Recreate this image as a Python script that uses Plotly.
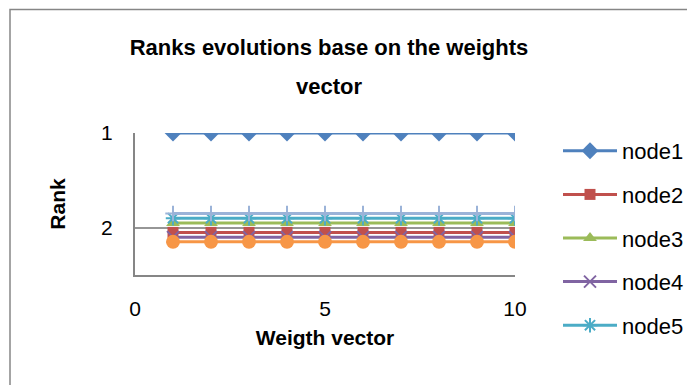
import plotly.graph_objects as go

weights = [1, 2, 3, 4, 5, 6, 7, 8, 9, 10]
series_names = ["node1", "node2", "node3", "node4", "node5", "node6", "node7"]
node1 = [1, 1, 1, 1, 1, 1, 1, 1, 1, 1]
node2 = [2.05, 2.05, 2.05, 2.05, 2.05, 2.05, 2.05, 2.05, 2.05, 2.05]
node3 = [1.95, 1.95, 1.95, 1.95, 1.95, 1.95, 1.95, 1.95, 1.95, 1.95]
node4 = [2.1, 2.1, 2.1, 2.1, 2.1, 2.1, 2.1, 2.1, 2.1, 2.1]
node5 = [1.9, 1.9, 1.9, 1.9, 1.9, 1.9, 1.9, 1.9, 1.9, 1.9]
node6 = [2.15, 2.15, 2.15, 2.15, 2.15, 2.15, 2.15, 2.15, 2.15, 2.15]
node7 = [1.85, 1.85, 1.85, 1.85, 1.85, 1.85, 1.85, 1.85, 1.85, 1.85]
x_ticks = [0, 5, 10]
y_ticks = [1, 2]

values = [node1, node2, node3, node4, node5, node6, node7]
colors = ["#4F81BD", "#C0504D", "#9BBB59", "#8064A2", "#4BACC6", "#F79646", "#9BB3D8"]
symbols = ["diamond", "square", "triangle-up", "x-thin-open", "asterisk-open", "circle", "cross-thin-open"]
sizes = [13, 11, 12, 12, 12, 14, 11]

FONT = "Liberation Sans, Arial, sans-serif"
OFF = 8  # page body margin
W, H = 695 - OFF, 385 - OFF
# plot area in page pixels: x 135..515, y 133..275.5
L = 135 - OFF
R = 695 - 515
T = 133 - OFF
B = 385 - 275.5

fig = go.Figure()
for i, (name, ys) in enumerate(zip(series_names, values)):
    open_sym = symbols[i].endswith("open")
    fig.add_trace(go.Scatter(
        x=weights, y=ys, name=name, mode="lines+markers",
        legendgroup=name, showlegend=i < 5,
        line=dict(color=colors[i], width=3),
        marker=dict(symbol=symbols[i], size=sizes[i], color=colors[i],
                    line=dict(color=colors[i], width=2 if open_sym else 0)),
    ))

pw = 515 - 135
ph = 275.5 - 133

def px_x(p):  # page px -> paper
    return (p - 135) / pw

def px_y(p):
    return (275.5 - p) / ph

fig.update_layout(
    width=W, height=H,
    margin=dict(l=L, r=R, t=T, b=B, pad=0, autoexpand=False),
    paper_bgcolor="white", plot_bgcolor="white",
    font=dict(family=FONT, size=21, color="#000000"),
    title=dict(text="Ranks evolutions base on the weights", xref="paper", x=px_x(329),
               xanchor="center", yref="container", y=1 - (47 - OFF) / H, yanchor="middle",
               font=dict(family=FONT, size=22, color="#000000", weight="bold")),
    annotations=[dict(text="vector", xref="paper", yref="paper", x=px_x(329), y=px_y(86),
                      xanchor="center", yanchor="middle", showarrow=False,
                      font=dict(family=FONT, size=22, color="#000000", weight="bold"))],
    xaxis=dict(range=[0, 10], tickvals=x_ticks, showgrid=False, zeroline=False,
               showline=True, linecolor="#868686", linewidth=2, ticks="",
               ticklabelstandoff=14, tickfont=dict(size=21),
               title=dict(text="Weigth vector", standoff=11,
                          font=dict(family=FONT, size=21, weight="bold"))),
    yaxis=dict(range=[2.5, 1], tickvals=y_ticks, showgrid=True, gridcolor="#969696",
               gridwidth=1.5, zeroline=False, showline=True, linecolor="#868686",
               linewidth=2, ticks="", ticklabelstandoff=16, tickfont=dict(size=21),
               title=dict(text="Rank", standoff=30,
                          font=dict(family=FONT, size=21, weight="bold"))),
    legend=dict(x=px_x(558), xanchor="left", y=px_y(130), yanchor="top",
                font=dict(family=FONT, size=22), itemwidth=54, maxheight=400,
                tracegroupgap=12, bgcolor="rgba(0,0,0,0)"),
    shapes=[dict(type="rect", xref="paper", yref="paper",
                 x0=px_x(10), x1=px_x(698), y0=px_y(392), y1=px_y(9),
                 line=dict(color="#868686", width=1.5), fillcolor="rgba(0,0,0,0)",
                 layer="below")],
    showlegend=True,
)

fig.write_html("out.html")
